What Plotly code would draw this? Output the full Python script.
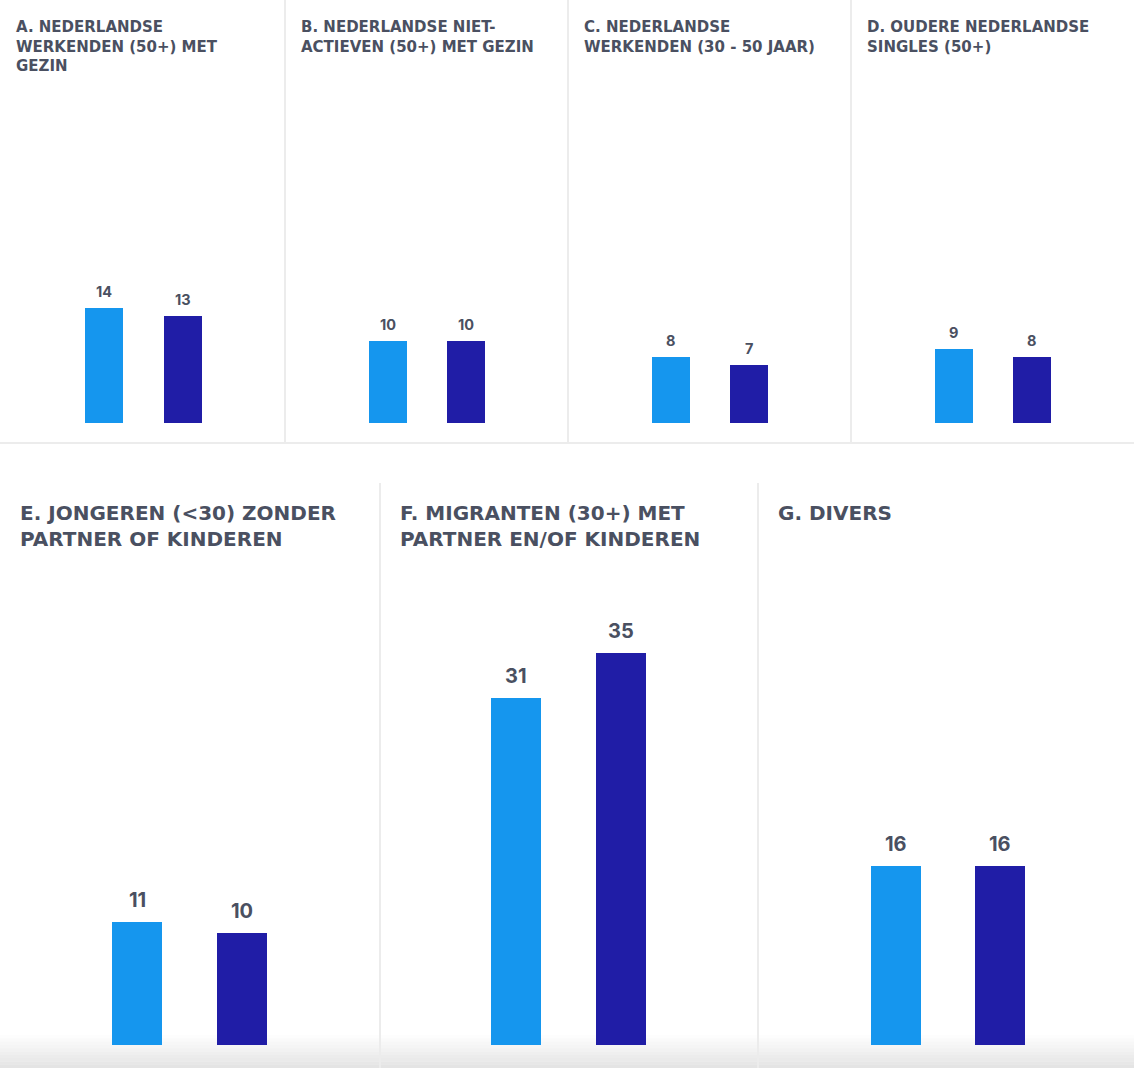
import plotly.graph_objects as go

W, H = 1134, 1068

titles = [
    "A. NEDERLANDSE<br>WERKENDEN (50+) MET<br>GEZIN",
    "B. NEDERLANDSE NIET-<br>ACTIEVEN (50+) MET GEZIN",
    "C. NEDERLANDSE<br>WERKENDEN (30 - 50 JAAR)",
    "D. OUDERE NEDERLANDSE<br>SINGLES (50+)",
    "E. JONGEREN (<30) ZONDER<br>PARTNER OF KINDEREN",
    "F. MIGRANTEN (30+) MET<br>PARTNER EN/OF KINDEREN",
    "G. DIVERS",
]
series_names = ["Reeks 1", "Reeks 2"]
series_1 = [14, 10, 8, 9, 11, 31, 16]
series_2 = [13, 10, 7, 8, 10, 35, 16]

LIGHT = "#1596ee"
DARK = "#201da6"
TXT = "#4a5061"
TITLE_FONT = "DejaVu Sans, Liberation Sans, Arial"
LABEL_FONT = "Inter, Liberation Sans, Arial"

# panel layout in pixels: (left, right, top_of_plot, baseline, px_per_unit, c0, c1, barw, title_y, title_size, label_size)
panels = [
    (0, 285, 90, 423, 8.25, 104, 182.5, 38, 16, 15, 14.5),
    (285, 568, 90, 423, 8.25, 102.5, 180.5, 38, 16, 15, 14.5),
    (568, 851, 90, 423, 8.25, 102.5, 180.5, 38, 16, 15, 14.5),
    (851, 1134, 90, 423, 8.25, 102.5, 180.5, 38, 16, 15, 14.5),
    (0, 380, 560, 1045, 11.2, 137, 242, 50, 499, 20, 20),
    (380, 758, 560, 1045, 11.2, 136, 241, 50, 499, 20, 20),
    (758, 1134, 560, 1045, 11.2, 138, 242, 50, 499, 20, 20),
]

fig = go.Figure()
annotations = []
shapes = []

for i, (l, r, t, b, ppu, c0, c1, bw, ty, tsz, lsz) in enumerate(panels):
    n = i + 1
    xa = "x" if n == 1 else f"x{n}"
    ya = "y" if n == 1 else f"y{n}"
    s = c1 - c0
    w = r - l
    vals = [series_1[i], series_2[i]]
    fig.add_trace(go.Bar(
        x=[0, 1], y=vals, width=bw / s,
        marker=dict(color=[LIGHT, DARK], line=dict(width=0)),
        xaxis=xa, yaxis=ya, showlegend=False, hoverinfo="y",
    ))
    xkey = "xaxis" if n == 1 else f"xaxis{n}"
    ykey = "yaxis" if n == 1 else f"yaxis{n}"
    fig.update_layout(**{
        xkey: dict(domain=[l / W, r / W], range=[-c0 / s, (w - c0) / s],
                   visible=False, fixedrange=True, anchor=ya),
        ykey: dict(domain=[1 - b / H, 1 - t / H], range=[0, (b - t) / ppu],
                   visible=False, fixedrange=True, anchor=xa),
    })
    for j, v in enumerate(vals):
        annotations.append(dict(
            x=j, y=v, xref=xa, yref=ya, text=str(v), showarrow=False,
            yanchor="bottom", yshift=6 if lsz < 16 else 8,
            font=dict(family=LABEL_FONT, size=lsz, color=TXT, weight=700),
        ))
    annotations.append(dict(
        x=(l + (14 if n <= 4 else 18)) / W, y=1 - ty / H, xref="paper", yref="paper",
        xanchor="left", yanchor="top", align="left", text=titles[i], showarrow=False,
        font=dict(family=TITLE_FONT, size=tsz, color=TXT, weight=700),
    ))

SEP = "#ececec"
# top row separators
for x in [285, 568, 851]:
    shapes.append(dict(type="line", xref="paper", yref="paper", x0=x / W, x1=x / W,
                       y0=1 - 443 / H, y1=1, line=dict(color=SEP, width=2)))
shapes.append(dict(type="line", xref="paper", yref="paper", x0=0, x1=1,
                   y0=1 - 443 / H, y1=1 - 443 / H, line=dict(color=SEP, width=2)))
# bottom row separators
for x in [380, 758]:
    shapes.append(dict(type="line", xref="paper", yref="paper", x0=x / W, x1=x / W,
                       y0=0, y1=1 - 483 / H, line=dict(color=SEP, width=2)))
# bottom gradient
steps = 10
for k in range(steps):
    y0 = 1035 + k * 3.3
    shapes.append(dict(type="rect", xref="paper", yref="paper", x0=0, x1=1,
                       y0=1 - (y0 + 3.3) / H, y1=1 - y0 / H, line=dict(width=0),
                       fillcolor=f"rgba(200,200,200,{0.04 + 0.05 * k:.2f})", layer="below"))

fig.update_layout(
    width=W, height=H, margin=dict(l=0, r=0, t=0, b=0),
    paper_bgcolor="white", plot_bgcolor="rgba(0,0,0,0)",
    annotations=annotations, shapes=shapes, bargap=0,
)

fig.write_html("out.html", config={"displayModeBar": False},
               post_script="document.body.style.margin='0';document.body.style.overflow='hidden';")
